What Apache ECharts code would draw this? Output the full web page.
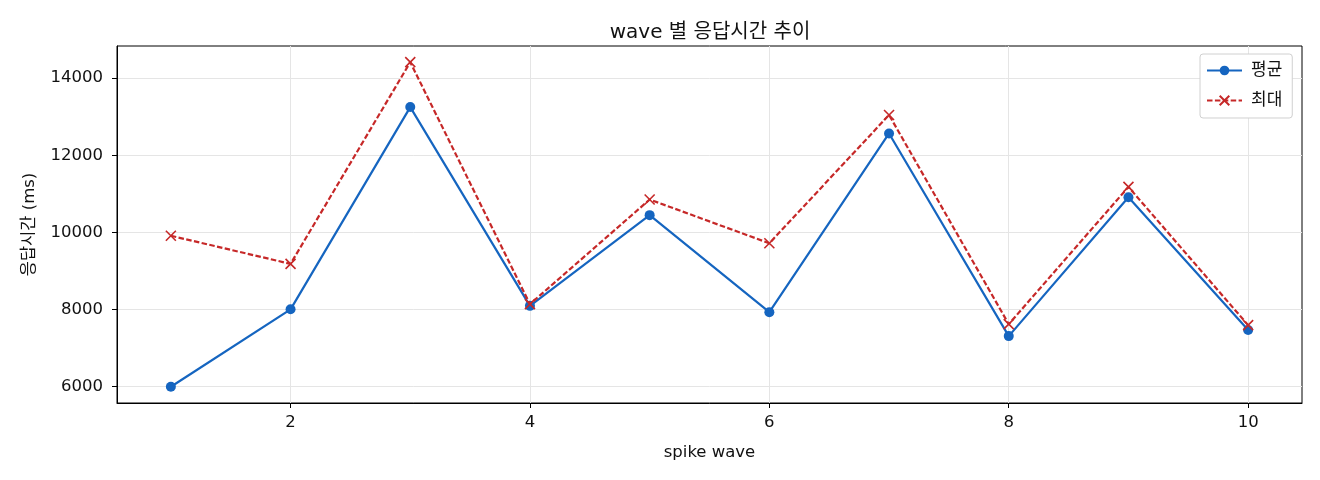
<!DOCTYPE html>
<html>
<head>
<meta charset="utf-8">
<script src="https://cdn.jsdelivr.net/npm/echarts@6/dist/echarts.min.js"></script>
<style>
  html, body { margin: 0; padding: 0; background: #fff; }
  #c { width: 1320px; height: 480px; }
</style>
</head>
<body>
<div id="c"></div>
<script>
// wave number and response times (ms)
var waves = [1, 2, 3, 4, 5, 6, 7, 8, 9, 10];
var avgMs = [5990, 8000, 13250, 8090, 10445, 7925, 12565, 7305, 10910, 7465];
var maxMs = [9910, 9180, 14415, 8135, 10850, 9715, 13045, 7615, 11177, 7590];
var xTicks = [2, 4, 6, 8, 10];
var yTicks = [6000, 8000, 10000, 12000, 14000];

function pairs(xs, ys) {
  var out = [];
  for (var i = 0; i < xs.length; i++) out.push([xs[i], ys[i]]);
  return out;
}

var font = '"DejaVu Sans", "Noto Sans CJK KR", sans-serif';
var fs = 16.5;
var chart = echarts.init(document.getElementById('c'));

chart.setOption({
  backgroundColor: '#fff',
  animation: false,
  textStyle: { fontFamily: font },
  title: {
    text: 'wave 별 응답시간 추이',
    left: 705, textAlign: 'center', top: 18,
    textStyle: { fontSize: 20, fontWeight: 'normal', color: '#111', fontFamily: font }
  },
  legend: {
    orient: 'vertical',
    left: 1200, top: 54,
    padding: [8, 10, 9, 6],
    itemWidth: 35, itemHeight: 12, itemGap: 13,
    borderColor: '#d0d0d0', borderWidth: 1, borderRadius: 3,
    backgroundColor: '#fff',
    textStyle: { fontSize: 17, color: '#111', fontFamily: font, padding: [0, 0, 0, 4] },
    data: ['평균', '최대']
  },
  grid: {
    left: 117, right: 18, top: 46, bottom: 77,
    show: true, borderColor: '#000', borderWidth: 1
  },
  xAxis: {
    type: 'value', min: 0.55, max: 10.45,
    name: 'spike wave', nameLocation: 'middle', nameGap: 41,
    nameTextStyle: { fontSize: fs, color: '#111', fontFamily: font },
    axisLine: { show: true, lineStyle: { color: '#000' } },
    axisTick: { show: true, length: 5, customValues: xTicks, lineStyle: { color: '#000' } },
    axisLabel: { customValues: xTicks, margin: 11, fontSize: fs, color: '#111', fontFamily: font },
    splitLine: { show: true, lineStyle: { color: '#e5e5e5', width: 1 } }
  },
  yAxis: {
    type: 'value', min: 5569, max: 14835,
    name: '응답시간 (ms)', nameLocation: 'middle', nameGap: 79, nameRotate: 90,
    nameTextStyle: { fontSize: fs, color: '#111', fontFamily: font },
    axisLine: { show: true, lineStyle: { color: '#000' } },
    axisTick: { show: true, length: 5, customValues: yTicks, lineStyle: { color: '#000' } },
    axisLabel: {
      customValues: yTicks, margin: 14, fontSize: fs, color: '#111', fontFamily: font,
      formatter: function (v) { return String(v); }
    },
    splitLine: { show: true, lineStyle: { color: '#e5e5e5', width: 1 } }
  },
  series: [
    {
      name: '평균', type: 'line',
      data: pairs(waves, avgMs),
      symbol: 'circle', symbolSize: 10,
      lineStyle: { color: '#1565c0', width: 2.2 },
      itemStyle: { color: '#1565c0' },
      z: 3
    },
    {
      name: '최대', type: 'line',
      data: pairs(waves, maxMs),
      symbol: 'path://M0,0L10,10M10,0L0,10', symbolSize: 10, symbolKeepAspect: true,
      lineStyle: { color: '#c62828', width: 2.2, type: [5.5, 2.4] },
      itemStyle: { color: 'rgba(0,0,0,0)', borderColor: '#c62828', borderWidth: 1.6 },
      z: 4
    }
  ]
});
</script>
</body>
</html>
